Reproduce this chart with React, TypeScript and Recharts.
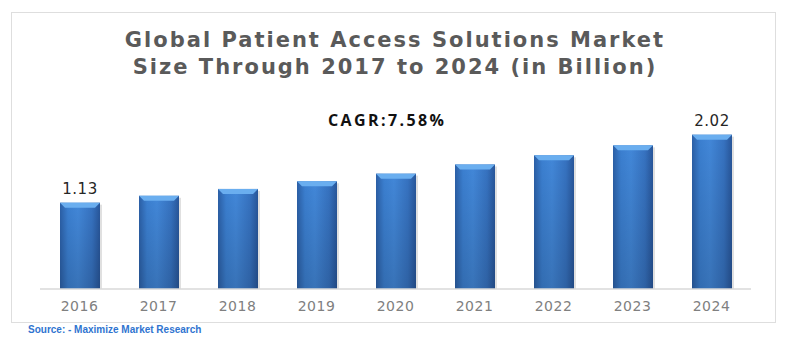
import { BarChart, Bar, XAxis, YAxis, LabelList } from "recharts";

const years = ["2016", "2017", "2018", "2019", "2020", "2021", "2022", "2023", "2024"];
const marketSize = [1.13, 1.22, 1.31, 1.41, 1.51, 1.63, 1.75, 1.88, 2.02];
const labelledYears = ["2016", "2024"];
const titleLines = ["Global Patient Access Solutions Market", "Size Through 2017 to 2024 (in Billion)"];

const data = years.map((year, i) => ({ year, value: marketSize[i] }));

const BevelBar = (props: any) => {
    const { x, y, width, height } = props;
    if (!height || height <= 0) return null;
    const b = 5;
    return (
        <g>
            <rect x={x + 2} y={y + 2} width={width} height={height - 2} fill="#000" opacity={0.12} />
            <rect x={x} y={y} width={width} height={height} fill="url(#barFill)" />
            <rect x={x} y={y} width={width} height={height} fill="url(#barShade)" />
            <path d={`M${x},${y} L${x + width},${y} L${x + width - b},${y + b} L${x + b},${y + b} Z`} fill="#6aaeef" />
        </g>
    );
};

const valueLabel = (props: any) => {
    const { x, y, width, value, index } = props;
    if (!labelledYears.includes(years[index])) return null;
    return (
        <text x={x + width / 2} y={y - 9} textAnchor="middle" fontSize={15} fill="#262626"
            fontFamily="'DejaVu Sans', sans-serif" letterSpacing={0.5}>
            {value.toFixed(2)}
        </text>
    );
};

export default function App() {
    return (
        <div style={{ position: "absolute", left: 0, top: 0, width: 785, height: 352, background: "#fff" }}>
            <div style={{ position: "absolute", left: 11, top: 12, width: 763, height: 309, border: "1px solid #dedede" }} />
            <div style={{ position: "absolute", left: 0, top: 0 }}>
                <BarChart width={785} height={352} data={data} margin={{ top: 98, right: 34, bottom: 33, left: 40 }}>
                    <defs>
                        <linearGradient id="barFill" x1="0" y1="0" x2="1" y2="0">
                            <stop offset="0%" stopColor="#2b5fa6" />
                            <stop offset="20%" stopColor="#3b7fd0" />
                            <stop offset="45%" stopColor="#4287d8" />
                            <stop offset="80%" stopColor="#3672c0" />
                            <stop offset="100%" stopColor="#28569a" />
                        </linearGradient>
                        <linearGradient id="barShade" x1="0" y1="0" x2="0" y2="1">
                            <stop offset="0%" stopColor="#000" stopOpacity={0} />
                            <stop offset="100%" stopColor="#000" stopOpacity={0.15} />
                        </linearGradient>
                    </defs>
                    <XAxis dataKey="year" axisLine={{ stroke: "#d9d9d9", strokeWidth: 1.5 }} tickLine={false} tickMargin={6}
                        tick={{ fontSize: 14, fill: "#808080", fontFamily: "'DejaVu Sans', sans-serif", letterSpacing: 0.5 }} />
                    <YAxis hide domain={[0, 2.5]} />
                    <Bar dataKey="value" barSize={40} shape={BevelBar} isAnimationActive={false}>
                        <LabelList dataKey="value" content={valueLabel} />
                    </Bar>
                    <text x={395} y={47} textAnchor="middle" fontFamily="'DejaVu Sans', sans-serif" fontWeight={700}
                        fontSize={21} letterSpacing={2} fill="#5a5a5a">{titleLines[0]}</text>
                    <text x={395} y={74} textAnchor="middle" fontFamily="'DejaVu Sans', sans-serif" fontWeight={700}
                        fontSize={21} letterSpacing={2} fill="#5a5a5a">{titleLines[1]}</text>
                    <text x={328} y={126} fontFamily="'Open Sans', sans-serif" fontWeight={700}
                        fontSize={16} letterSpacing={2.4} fill="#111">CAGR:7.58%</text>
                    <text x={28} y={333} fontFamily="'Liberation Sans', Arial, sans-serif" fontWeight={700}
                        fontSize={10} fill="#2f74d0">Source: - Maximize Market Research</text>
                </BarChart>
            </div>
        </div>
    );
}
